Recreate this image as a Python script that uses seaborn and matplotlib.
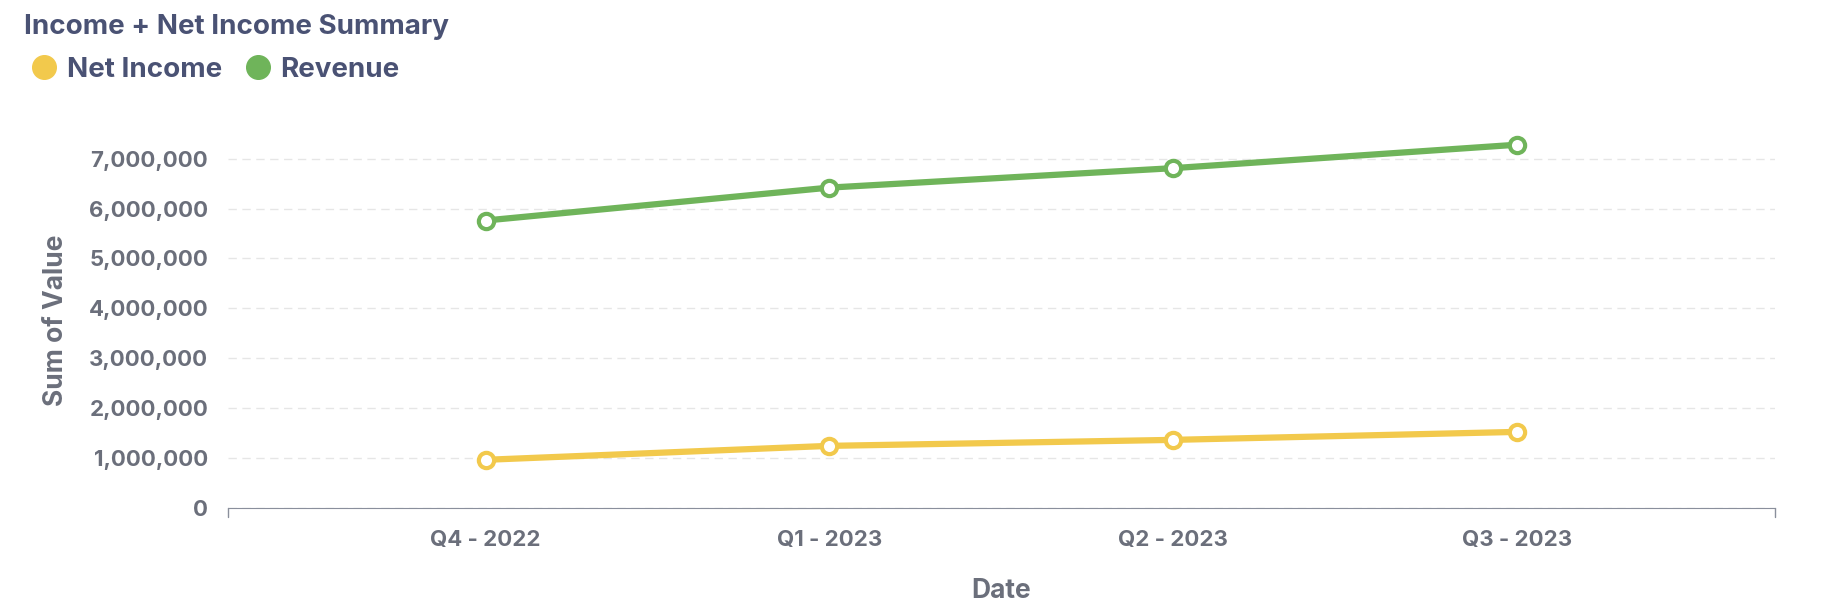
import matplotlib
matplotlib.use("Agg")
import matplotlib.pyplot as plt
import seaborn as sns
import pandas as pd
from matplotlib.lines import Line2D
from matplotlib.ticker import FuncFormatter

quarters = ["Q4 - 2022", "Q1 - 2023", "Q2 - 2023", "Q3 - 2023"]
revenue = [5760000, 6420000, 6810000, 7280000]
net_income = [960000, 1240000, 1360000, 1520000]
series_names = ["Net Income", "Revenue"]
series_colors = ["#F2C94C", "#6FB45A"]

df = pd.DataFrame({
    "Date": quarters * 2,
    "Value": net_income + revenue,
    "Series": ["Net Income"] * 4 + ["Revenue"] * 4,
})

sns.set_style("white")
plt.rcParams["font.family"] = ["Inter", "DejaVu Sans"]
text_col = "#6B6F7B"
title_col = "#4A5274"

fig = plt.figure(figsize=(18.22, 6.08), dpi=100)
ax = fig.add_axes([0.125, 0.165, 0.849, 0.615])

sns.lineplot(data=df, x="Date", y="Value", hue="Series", palette=series_colors,
             hue_order=series_names, linewidth=4.5, marker="o", markersize=11,
             markerfacecolor="white", markeredgewidth=3, legend=False, ax=ax, sort=False)
# marker edges match line colours
for line, c in zip(ax.get_lines(), series_colors):
    line.set_markeredgecolor(c)

ax.set_xlim(-0.75, 3.75)
ax.set_ylim(0, 7500000)
ax.set_yticks(range(0, 7000001, 1000000))
ax.yaxis.set_major_formatter(FuncFormatter(lambda v, p: f"{int(v):,}"))
ax.grid(axis="y", color="#E6E6E6", linestyle=(0, (6, 4)), linewidth=1)
for s in ["top", "right", "left"]:
    ax.spines[s].set_visible(False)
ax.spines["bottom"].set_color("#8A8F9C")
# small end ticks on the x axis line
for xe in (-0.75, 3.75):
    ax.plot([xe, xe], [0, -0.025], transform=ax.get_xaxis_transform(),
            color="#8A8F9C", linewidth=1, clip_on=False)
ax.tick_params(axis="y", length=0, labelsize=16, labelcolor=text_col, pad=14)
ax.tick_params(axis="x", length=0, labelsize=16, labelcolor=text_col, pad=16)
for lbl in ax.get_xticklabels() + ax.get_yticklabels():
    lbl.set_fontweight("bold")
ax.set_xlabel("Date", fontsize=19, fontweight="bold", color=text_col, labelpad=20)
ax.set_ylabel("Sum of Value", fontsize=19, fontweight="bold", color=text_col, labelpad=14)

fig.text(0.013, 0.955, "Income + Net Income Summary", fontsize=20, fontweight="bold",
         color=title_col, va="center")
handles = [Line2D([], [], marker="o", linestyle="", markersize=17, color=c) for c in series_colors]
leg = fig.legend(handles, series_names, loc="center left", bbox_to_anchor=(0.0, 0.885),
                 frameon=False, ncol=2, fontsize=20, handletextpad=0.1, columnspacing=0.6,
                 handlelength=1.4)
for t in leg.get_texts():
    t.set_fontweight("bold")
    t.set_color(title_col)

fig.savefig("out.png", dpi=100)
